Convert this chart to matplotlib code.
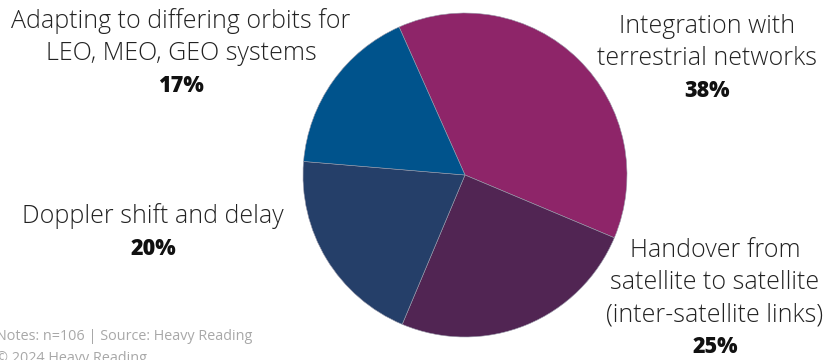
import matplotlib.pyplot as plt

plt.rcParams['font.family'] = ['Open Sans', 'DejaVu Sans']

# slice data (clockwise from the top-left boundary)
labels = ['Integration with\nterrestrial networks',
          'Handover from\nsatellite to satellite\n(inter-satellite links)',
          'Doppler shift and delay',
          'Adapting to differing orbits for\nLEO, MEO, GEO systems']
shares = [38, 25, 20, 17]
colors = ['#8E2569', '#512553', '#253F69', '#00538C']

# label anchor positions in pixel coords (x centre, baseline of first line from top)
label_pos = [(707, 33), (715, 257), (153, 223), (181, 28)]

fig = plt.figure(figsize=(8.25, 3.6), dpi=100)
ax = fig.add_axes([0, 0, 1, 1])

ax.pie(shares, colors=colors, startangle=114, counterclock=False,
       center=(465, 185), radius=162,
       wedgeprops=dict(edgecolor='#9a9aaa', linewidth=0.4))

ax.set_xlim(0, 825)
ax.set_ylim(0, 360)
ax.set_aspect('equal')
ax.axis('off')

line_h = 32
for lab, val, (x, y) in zip(labels, shares, label_pos):
    lines = lab.split('\n')
    for k, ln in enumerate(lines):
        ax.text(x, 360 - (y + k * line_h), ln, ha='center', va='baseline',
                fontsize=18, fontweight='light', color='#222222')
    ax.text(x, 360 - (y + len(lines) * line_h), f'{val}%', ha='center',
            va='baseline', fontsize=15.5, fontweight='heavy', color='#111111')

ax.text(-4, 360 - 336, 'Notes: n=106 | Source: Heavy Reading', ha='left',
        va='center', fontsize=10.4, color='#a8a8a8')
ax.text(-4, 360 - 358, '© 2024 Heavy Reading', ha='left',
        va='center', fontsize=10.4, color='#a8a8a8')

fig.savefig('out.png', dpi=100)
